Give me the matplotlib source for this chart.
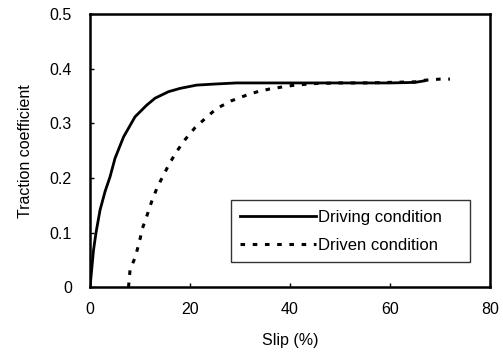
import matplotlib
matplotlib.use('Agg')
from matplotlib import pyplot as plt

plt.rcParams['font.family'] = ['Liberation Sans', 'DejaVu Sans']

# driving condition (solid)
drive_x = [0, 0.7, 1.2, 2, 3, 4, 5, 6.7, 9, 11.3, 13, 15.7, 18, 21.3, 25,
           29.3, 40, 50, 60, 65, 67]
drive_y = [0, 0.068, 0.100, 0.141, 0.175, 0.202, 0.236, 0.275, 0.312, 0.333,
           0.346, 0.358, 0.364, 0.370, 0.372, 0.374, 0.374, 0.374, 0.374,
           0.375, 0.378]

# driven condition (dashed)
driven_x = [7.7, 8, 9, 9.8, 10.5, 11.5, 12.3, 13.5, 14.7, 15.8, 17.3, 19, 21,
            23.3, 25.3, 28.2, 31.7, 33.9, 36, 38.7, 41, 45.3, 50, 55, 60, 65,
            67, 70, 72]
driven_y = [0, 0.031, 0.054, 0.080, 0.108, 0.134, 0.156, 0.184, 0.205, 0.225,
            0.248, 0.270, 0.292, 0.311, 0.327, 0.341, 0.353, 0.359, 0.363,
            0.367, 0.370, 0.373, 0.374, 0.374, 0.375, 0.376, 0.379, 0.381, 0.381]

xticks = [0, 20, 40, 60, 80]
yticks = [0, 0.1, 0.2, 0.3, 0.4, 0.5]
ytick_labels = ['0', '0.1', '0.2', '0.3', '0.4', '0.5']

fig = plt.figure(figsize=(5.03, 3.54), dpi=100)
ax = fig.add_axes([0.179, 0.189, 0.795, 0.771])

ax.plot(drive_x, drive_y, color='black', linewidth=2, label='Driving condition')
ax.plot(driven_x, driven_y, color='black', linewidth=2.2,
        linestyle=(0, (1.5, 2.5)), label='Driven condition')

ax.set_xlim(0, 80)
ax.set_ylim(0, 0.5)
ax.set_xticks(xticks)
ax.set_xticklabels([str(v) for v in xticks])
ax.set_yticks(yticks)
ax.set_yticklabels(ytick_labels)
ax.tick_params(direction='in', length=3, width=1, labelsize=11.5)
ax.tick_params(axis='y', pad=13)
ax.tick_params(axis='x', pad=11)
for s in ax.spines.values():
    s.set_linewidth(1.8)

ax.set_xlabel('Slip (%)', fontsize=11.5, labelpad=11)
ax.set_ylabel('Traction coefficient', fontsize=11.5, labelpad=12)

leg = ax.legend(loc='lower left', bbox_to_anchor=(0.3525, 0.0916, 0.5975, 0.238),
                mode='expand', borderaxespad=0, fontsize=12, frameon=True,
                fancybox=False, edgecolor='black', handlelength=4.55,
                handletextpad=0.12, labelspacing=0.8, borderpad=0.55)
leg.get_frame().set_linewidth(1.0)

fig.savefig('out.png', dpi=100)
